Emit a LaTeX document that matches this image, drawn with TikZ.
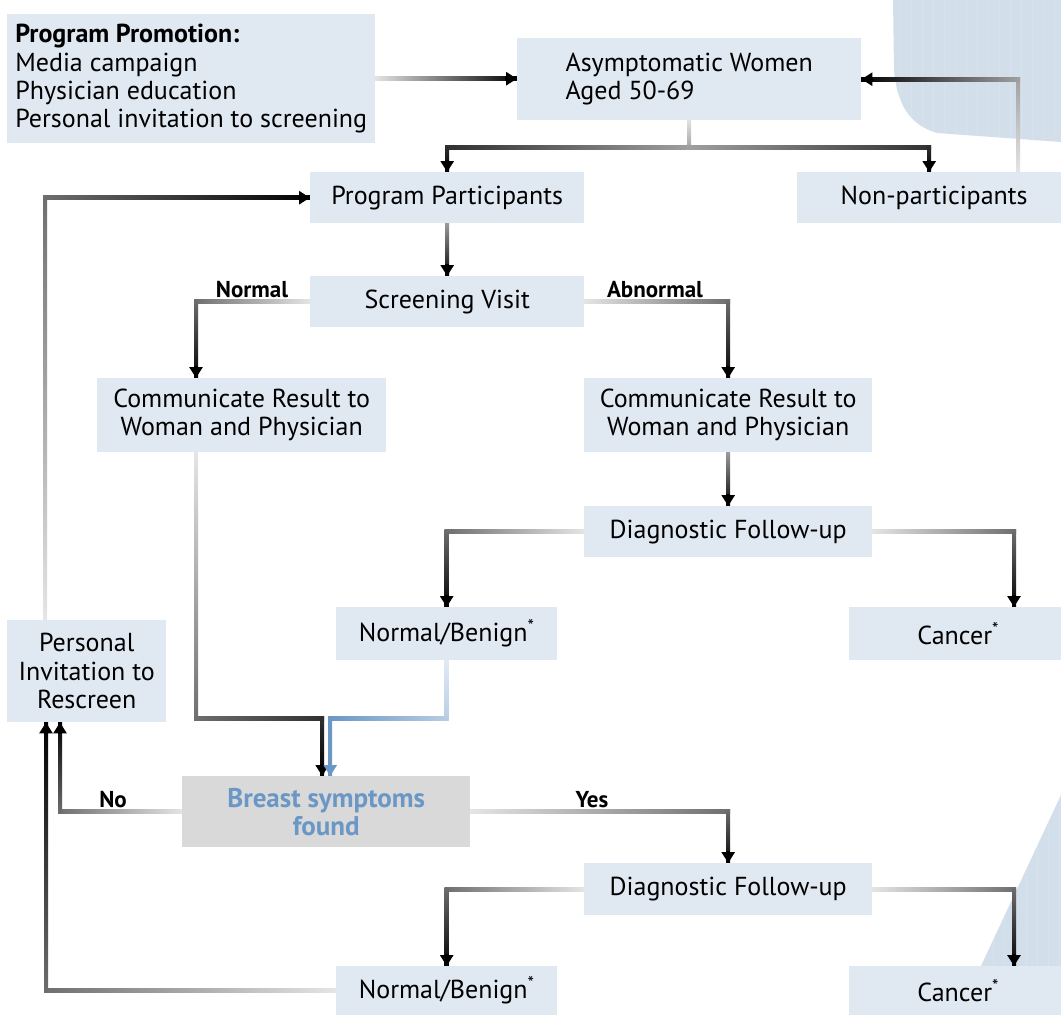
\documentclass[tikz,border=0pt]{standalone}
\usepackage{fontspec}
\setmainfont{PT Sans}
\usetikzlibrary{calc,arrows.meta}
\definecolor{boxfill}{HTML}{E0E8F2}
\definecolor{symfill}{HTML}{D9D9D9}
\definecolor{symtext}{HTML}{6A97C5}
\definecolor{blob}{HTML}{D2DEEA}
\definecolor{lt}{HTML}{E6E6E6}
\definecolor{md}{HTML}{6E6E6E}
\definecolor{mh}{HTML}{A0A0A0}
\definecolor{dk}{HTML}{303030}
\definecolor{bla}{HTML}{E2EBF4}
\definecolor{blb}{HTML}{B8CDE3}
\definecolor{blc}{HTML}{6A97C5}
\pgfdeclarelayer{deco}\pgfdeclarelayer{lines}
\pgfsetlayers{deco,lines,main}
\newcommand\gH[4]{\shade[left color=#3,right color=#4] ($#1+(-2,-2)$) rectangle ($#2+(2,2)$);}
\newcommand\gV[4]{\shade[top color=#3,bottom color=#4] ($#1+(-2,-2)$) rectangle ($#2+(2,2)$);}
\tikzset{
  box/.style={fill=boxfill, inner sep=0pt, anchor=north west, align=center, text=black,
    font=\fontsize{26}{28.3}\selectfont},
  lbl/.style={inner sep=0pt, font=\fontsize{23}{24}\selectfont\bfseries},
  tip/.style={line width=4pt, draw=black, -{Triangle[length=11pt,width=13pt]}},
}
\begin{document}
\begin{tikzpicture}[x=1pt,y=-1pt]
\useasboundingbox (0,0) rectangle (1061,1015);
% background decorations
\begin{pgfonlayer}{deco}
\fill[blob] (893,0) -- (894,70) .. controls (897,105) and (910,125) .. (937,133) -- (1061,142) -- (1061,0) -- cycle;
\fill[blob] (1061,795) -- (958,1015) -- (1061,1015) -- cycle;
\begin{scope}
\clip (893,0) -- (894,70) .. controls (897,105) and (910,125) .. (937,133) -- (1061,142) -- (1061,0) -- cycle;
\foreach \x in {900,911,...,1061} \draw[white, opacity=.15, line width=.8pt] (\x,0) -- (\x,150);
\end{scope}
\begin{scope}
\clip (1061,795) -- (958,1015) -- (1061,1015) -- cycle;
\foreach \x in {960,971,...,1061} \draw[white, opacity=.15, line width=.8pt] (\x,790) -- (\x,1015);
\end{scope}
\end{pgfonlayer}
% nodes
\node[box, minimum width=368, minimum height=129, align=left] (promo) at (7,14)
  {\textbf{Program Promotion:}\\Media campaign\\Physician education\\Personal invitation to screening};
\node[box, minimum width=344, minimum height=82, align=left] (asym) at (517,38) {Asymptomatic Women\\Aged 50-69};
\node[box, minimum width=274, minimum height=51] (participants) at (310,172) {Program Participants};
\node[box, minimum width=264, minimum height=51] (nonpart) at (797,172) {\hspace{10pt}Non-participants};
\node[box, minimum width=274, minimum height=51] (screening) at (310,276) {Screening Visit};
\node[box, minimum width=289, minimum height=74] (commL) at (97,378) {Communicate Result to\\Woman and Physician};
\node[box, minimum width=288, minimum height=74] (commR) at (584,378) {Communicate Result to\\Woman and Physician};
\node[box, minimum width=288, minimum height=51] (diag1) at (584,506) {Diagnostic Follow-up};
\node[box, minimum width=221, minimum height=53] (nb1) at (336,607) {Normal/Benign\textsuperscript{*}};
\node[box, minimum width=212, minimum height=53] (cancer1) at (849,607) {\hspace{6pt}Cancer\textsuperscript{*}};
\node[box, minimum width=159, minimum height=102] (invite) at (7,620) {Personal\\Invitation to\\Rescreen};
\node[box, fill=symfill, text=symtext, minimum width=288, minimum height=71, font=\fontsize{27}{28}\selectfont\bfseries] (breast) at (182,776) {Breast symptoms\\found};
\node[box, minimum width=288, minimum height=52] (diag2) at (584,863) {Diagnostic Follow-up};
\node[box, minimum width=221, minimum height=49] (nb2) at (336,966) {Normal/Benign\textsuperscript{*}};
\node[box, minimum width=212, minimum height=49] (cancer2) at (849,966) {\hspace{6pt}Cancer\textsuperscript{*}};
% labels
\node[lbl] (lnormal) at (252,290) {Normal};
\node[lbl] (labn) at (655,290) {Abnormal};
\node[lbl] (lno) at (113,800) {No};
\node[lbl] (lyes) at (592,800) {Yes};
% coordinates
\coordinate (p1) at (asym.west |- promo.east);
\coordinate (j) at ($(asym.south)+(0,27)$);
\coordinate (jl) at (participants.north |- j);
\coordinate (jr) at (nonpart.north |- j);
\coordinate (n0) at ($(nonpart.north west)+(221,0)$);
\coordinate (n1) at (n0 |- asym.east);
\coordinate (s1) at ($(commL.north west)+(99,0)$);
\coordinate (s1c) at (s1 |- screening.west);
\coordinate (s2c) at (commR.north |- screening.east);
\coordinate (d1l) at (nb1.north |- diag1.west);
\coordinate (c1) at ($(cancer1.north west)+(165,0)$);
\coordinate (d1r) at (c1 |- diag1.east);
\coordinate (l0) at ($(commL.south west)+(99,0)$);
\coordinate (l1) at ($(l0)+(0,266)$);
\coordinate (bk) at ($(breast.north)+(-4,0)$);
\coordinate (l2) at (bk |- l1);
\coordinate (bb) at ($(breast.north)+(4,0)$);
\coordinate (m1) at (nb1.south |- l1);
\coordinate (m2) at (bb |- l1);
\coordinate (i1) at ($(invite.south west)+(53,0)$);
\coordinate (i1c) at (i1 |- breast.west);
\coordinate (y1) at (diag2.north |- breast.east);
\coordinate (d2l) at (nb2.north |- diag2.west);
\coordinate (c2) at ($(cancer2.north west)+(165,0)$);
\coordinate (d2r) at (c2 |- diag2.east);
\coordinate (i2) at ($(invite.south west)+(39,0)$);
\coordinate (i2c) at (i2 |- nb2.west);
\coordinate (i3) at ($(invite.north west)+(38,0)$);
\coordinate (i3c) at (i3 |- participants.west);
% connectors
\begin{pgfonlayer}{lines}
% promo -> asym
\gH{(promo.east)}{(p1)}{lt}{black}
\draw[tip] ($(p1)+(-12,0)$) -- (p1);
% asym -> participants / nonparticipants
\gV{(asym.south)}{(j)}{lt}{mh}
\gH{(jl)}{(j)}{dk}{mh}
\gH{(j)}{(jr)}{mh}{dk}
\gV{(jl)}{(participants.north)}{dk}{black}
\gV{(jr)}{(nonpart.north)}{dk}{black}
\draw[tip] ($(participants.north)+(0,-12)$) -- (participants.north);
\draw[tip] ($(nonpart.north)+(0,-12)$) -- (nonpart.north);
% nonparticipants -> asym
\gV{(n1)}{(n0)}{mh}{lt}
\gH{(asym.east)}{(n1)}{black}{mh}
\draw[tip] ($(asym.east)+(12,0)$) -- (asym.east);
% participants -> screening
\gV{(participants.south)}{(screening.north)}{mh}{black}
\draw[tip] ($(screening.north)+(0,-12)$) -- (screening.north);
% screening -> commL
\gH{(s1c)}{(screening.west)}{md}{lt}
\gV{(s1c)}{(s1)}{md}{black}
\draw[tip] ($(s1)+(0,-12)$) -- (s1);
% screening -> commR
\gH{(screening.east)}{(s2c)}{lt}{md}
\gV{(s2c)}{(commR.north)}{md}{black}
\draw[tip] ($(commR.north)+(0,-12)$) -- (commR.north);
% commR -> diag1
\gV{(commR.south)}{(diag1.north)}{mh}{black}
\draw[tip] ($(diag1.north)+(0,-12)$) -- (diag1.north);
% diag1 -> nb1 / cancer1
\gH{(d1l)}{(diag1.west)}{md}{lt}
\gV{(d1l)}{(nb1.north)}{md}{black}
\draw[tip] ($(nb1.north)+(0,-12)$) -- (nb1.north);
\gH{(diag1.east)}{(d1r)}{lt}{md}
\gV{(d1r)}{(c1)}{md}{black}
\draw[tip] ($(c1)+(0,-12)$) -- (c1);
% commL -> breast
\gV{(l0)}{(l1)}{lt}{md}
\gH{(l1)}{(l2)}{md}{dk}
\gV{(l2)}{(bk)}{dk}{black}
\draw[tip] ($(bk)+(0,-12)$) -- (bk);
% nb1 -> breast (blue)
\gV{(nb1.south)}{(m1)}{bla}{blb}
\gH{(m2)}{(m1)}{blc}{blb}
\gV{(m2)}{(bb)}{blc}{blc}
\draw[tip, draw=blc] ($(bb)+(0,-12)$) -- (bb);
% breast -> invite (No)
\gH{(i1c)}{(breast.west)}{md}{lt}
\gV{(i1)}{(i1c)}{black}{md}
\draw[tip] ($(i1)+(0,12)$) -- (i1);
% breast -> diag2 (Yes)
\gH{(breast.east)}{(y1)}{lt}{md}
\gV{(y1)}{(diag2.north)}{md}{black}
\draw[tip] ($(diag2.north)+(0,-12)$) -- (diag2.north);
% diag2 -> nb2 / cancer2
\gH{(d2l)}{(diag2.west)}{md}{lt}
\gV{(d2l)}{(nb2.north)}{md}{black}
\draw[tip] ($(nb2.north)+(0,-12)$) -- (nb2.north);
\gH{(diag2.east)}{(d2r)}{lt}{md}
\gV{(d2r)}{(c2)}{md}{black}
\draw[tip] ($(c2)+(0,-12)$) -- (c2);
% nb2 -> invite
\gH{(i2c)}{(nb2.west)}{md}{lt}
\gV{(i2)}{(i2c)}{black}{md}
\draw[tip] ($(i2)+(0,12)$) -- (i2);
% invite -> participants
\gV{(i3c)}{(i3)}{md}{lt}
\gH{(i3c)}{(participants.west)}{md}{black}
\draw[tip] ($(participants.west)+(-12,0)$) -- (participants.west);
\end{pgfonlayer}
\end{tikzpicture}
\end{document}
